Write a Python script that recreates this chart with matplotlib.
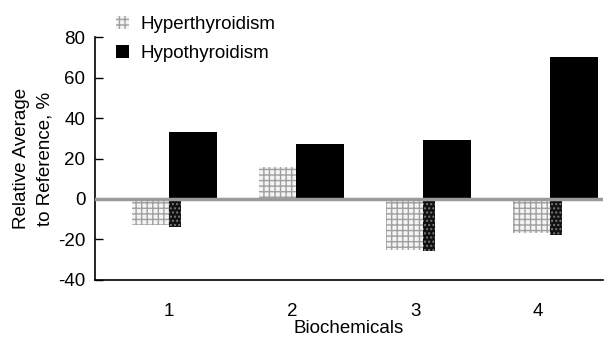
import matplotlib.pyplot as plt
import numpy as np

plt.rcParams['font.family'] = ['Liberation Sans', 'DejaVu Sans']
plt.rcParams['hatch.linewidth'] = 1.0
plt.rcParams['axes.unicode_minus'] = False

groups = ['1', '2', '3', '4']
hyper = [-13, 16, -25, -17]       # Hyperthyroidism
hypo = [33, 27, 29, 70]           # Hypothyroidism
hypo_neg = [-14, 0, -25.5, -18]   # narrow dark part of the hypo bars below zero

x = np.arange(len(groups))

fig = plt.figure(figsize=(6.06, 3.38), dpi=100)
ax = fig.add_axes([0.157, 0.172, 0.838, 0.718])

b1 = ax.bar(x - 0.29, hyper, width=0.29, align='edge', facecolor='#f4f4f4',
            edgecolor='#a0a0a0', hatch='+++', linewidth=0, label='Hyperthyroidism')
b2 = ax.bar(x, hypo, width=0.38, align='edge', color='black', label='Hypothyroidism')
ax.bar(x, hypo_neg, width=0.1, align='edge', facecolor='#111111',
       edgecolor='#777777', hatch='....', linewidth=0)

ax.axhline(0, color='#9a9a9a', linewidth=2.5, zorder=3)

ax.set_xlim(-0.58, 3.42)
ax.set_ylim(-40, 80)
ax.set_yticks(np.arange(-40, 81, 20))
ax.set_xticks(x - 0.03 * x)
ax.set_xticklabels(groups)
ax.tick_params(axis='x', length=0, pad=17, labelsize=13.5)
ax.tick_params(axis='y', direction='in', length=6, width=1, labelsize=13.5, pad=7)
for s in ['top', 'right']:
    ax.spines[s].set_visible(False)
for s in ['left', 'bottom']:
    ax.spines[s].set_linewidth(1.2)

ax.set_xlabel('Biochemicals', fontsize=13.5, labelpad=0)
ax.set_ylabel('Relative Average\nto Reference, %', fontsize=13.5, labelpad=3,
              linespacing=1.5)

fig.legend(handles=[b1, b2], loc='upper left', bbox_to_anchor=(0.176, 0.98),
           frameon=False, fontsize=13.5, borderpad=0, labelspacing=0.6,
           handlelength=0.7, handleheight=0.7, handletextpad=0.6)

fig.savefig('out.png', dpi=100)
